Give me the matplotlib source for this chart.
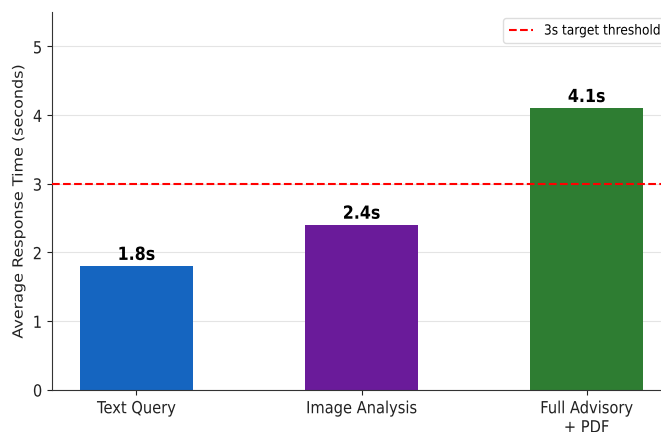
import matplotlib
matplotlib.use("Agg")
import matplotlib.pyplot as plt
from matplotlib.patheffects import AbstractPathEffect
from matplotlib.transforms import Affine2D
from matplotlib.text import Text

# Response time per request type (seconds)
categories = ["Text Query", "Image Analysis", "Full Advisory\n+ PDF"]
response_times = [1.8, 2.4, 4.1]
bar_colors = ["#1565C0", "#6A1B9A", "#2E7D32"]
target = 3.0
yticks = [0, 1, 2, 3, 4, 5]


class Squeeze(AbstractPathEffect):
    """Narrow the glyphs horizontally, keeping the text anchored by its alignment."""

    def __init__(self, sx, anchor="center"):
        super().__init__()
        self.sx = sx
        self.anchor = anchor

    def draw_path(self, renderer, gc, tpath, affine, rgbFace=None):
        v = tpath.vertices
        if len(v):
            x0, x1 = v[:, 0].min(), v[:, 0].max()
            ym = (v[:, 1].min() + v[:, 1].max()) / 2
            px = {"left": 0.0, "right": x1}.get(self.anchor, (x0 + x1) / 2)
            cx, cy = affine.transform((px, ym))
            affine = affine + Affine2D().translate(-cx, -cy).scale(self.sx, 1).translate(cx, cy)
        renderer.draw_path(gc, tpath, affine, rgbFace)


fig = plt.figure(figsize=(6.61, 4.32), dpi=100)
# axes runs a little past the right edge of the canvas
ax = fig.add_axes([52 / 661, 42.5 / 432, 619 / 661, 377.5 / 432])

x = range(len(categories))
ax.bar(x, response_times, width=0.5, color=bar_colors, zorder=2)
for i, v in enumerate(response_times):
    ax.text(i, v + 0.03, f"{v}s", ha="center", va="bottom",
            fontsize=13, fontweight="bold", color="black")

ax.axhline(target, color="red", linestyle="--", linewidth=1.5,
           label="3s target threshold", zorder=3)

ax.set_ylim(0, 5.5)
ax.set_xlim(-0.375, 2.375)
ax.set_yticks(yticks)
ax.set_xticks(list(x))
ax.set_xticklabels(categories, linespacing=1.08)
ax.tick_params(labelsize=12, colors="#222222")
ax.set_ylabel("Average Response Time (seconds)", fontsize=11.5, color="#222222")

ax.grid(axis="y", color="#e4e4e4", linewidth=0.8)
ax.set_axisbelow(True)
for s in ["top", "right"]:
    ax.spines[s].set_visible(False)
for s in ["left", "bottom"]:
    ax.spines[s].set_color("#333333")

ax.legend(loc="upper left", bbox_to_anchor=(503 / 661, 1 - 18 / 432),
          bbox_transform=fig.transFigure, borderaxespad=0, fontsize=10,
          handlelength=1.75, handletextpad=0.8, framealpha=1,
          edgecolor="#dddddd")

fig.canvas.draw()
for t in fig.findobj(Text):
    t.set_path_effects([Squeeze(0.88, t.get_horizontalalignment())])

fig.savefig("out.png", dpi=100)
